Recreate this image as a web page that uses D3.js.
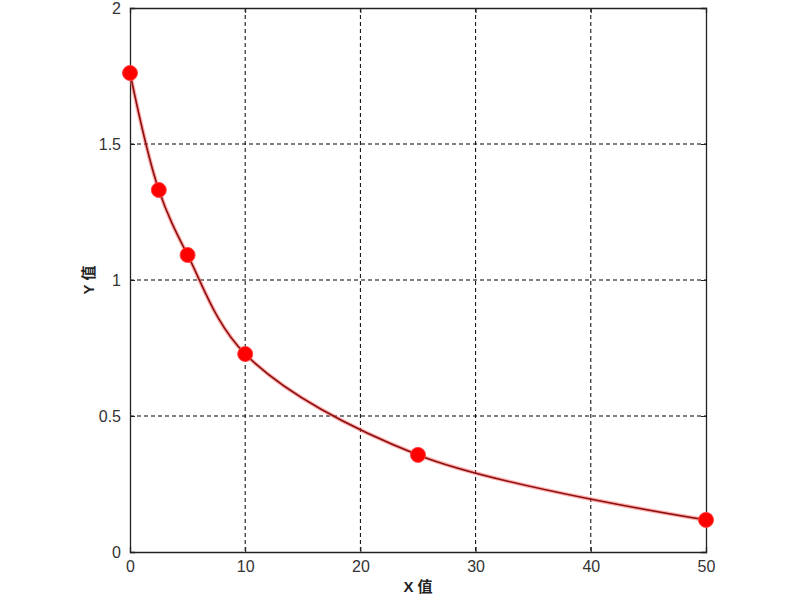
<!DOCTYPE html>
<html><head><meta charset="utf-8">
<script src="https://cdn.jsdelivr.net/npm/d3@7"></script>
<style>body{margin:0;background:#fff}</style>
</head><body>
<svg id="c" width="800" height="600"></svg>
<script>
const xValues = [0, 2.5, 5, 10, 25, 50];
const yValues = [1.761, 1.331, 1.092, 0.728, 0.357, 0.118];
const xTicks = [0, 10, 20, 30, 40, 50];
const yTicks = [0, 0.5, 1, 1.5, 2];
const xTitle = "X 值";
const yTitle = "Y 值";

const svg = d3.select("#c");
const L = 130, R = 706, T = 8, B = 552;
const x = d3.scaleLinear().domain([0, 50]).range([L, R]);
const y = d3.scaleLinear().domain([0, 2]).range([B, T]);

const g = svg.append("g");
// grid
g.selectAll(".gx").data(xTicks.slice(1, -1)).enter().append("line")
  .attr("x1", d => x(d)).attr("x2", d => x(d)).attr("y1", T).attr("y2", B)
  .attr("stroke", "#000").attr("stroke-width", 1).attr("stroke-dasharray", "4,3");
g.selectAll(".gy").data(yTicks.slice(1, -1)).enter().append("line")
  .attr("y1", d => y(d)).attr("y2", d => y(d)).attr("x1", L).attr("x2", R)
  .attr("stroke", "#000").attr("stroke-width", 1).attr("stroke-dasharray", "4,3");

// axes
const xAxis = d3.axisBottom(x).tickValues(xTicks).tickSize(-5).tickPadding(9).tickFormat(d3.format("d"));
const yAxis = d3.axisLeft(y).tickValues(yTicks).tickSize(-5).tickPadding(9).tickFormat(d => String(d));
const ga = svg.append("g").attr("transform", `translate(0,${B})`).call(xAxis);
const gb = svg.append("g").attr("transform", `translate(${L},0)`).call(yAxis);
const gc = svg.append("g").attr("transform", `translate(0,${T})`).call(d3.axisTop(x).tickValues(xTicks).tickSize(-5).tickFormat(""));
const gd = svg.append("g").attr("transform", `translate(${R},0)`).call(d3.axisRight(y).tickValues(yTicks).tickSize(-5).tickFormat(""));
[ga, gb, gc, gd].forEach(a => {
  a.select(".domain").attr("stroke", "#222").attr("stroke-width", 1.3);
  a.selectAll(".tick line").attr("stroke", "#222");
  a.selectAll("text").attr("font-family", "Liberation Sans, Arial, sans-serif").attr("font-size", 16).attr("fill", "#333");
});

// curve
const pts = xValues.map((v, i) => [x(v), y(yValues[i])]);
const line = d3.line().curve(d3.curveCatmullRom.alpha(0.5));
svg.append("path").attr("d", line(pts)).attr("fill", "none")
  .attr("stroke", "#ff6060").attr("stroke-width", 4).attr("opacity", 0.5);
svg.append("path").attr("d", line(pts)).attr("fill", "none")
  .attr("stroke", "#8b1010").attr("stroke-width", 1.6);

// markers
svg.selectAll(".pt").data(xValues).enter().append("circle")
  .attr("cx", d => x(d)).attr("cy", (d, i) => y(yValues[i])).attr("r", 7.5)
  .attr("fill", "#ff0000").attr("stroke", "#ff4040").attr("stroke-width", 1);

// titles
svg.append("text").attr("x", 418).attr("y", 592).attr("text-anchor", "middle")
  .attr("font-family", "Liberation Sans, Noto Sans CJK SC, sans-serif").attr("font-weight", "bold")
  .attr("font-size", 15).attr("fill", "#222").text(xTitle);
svg.append("text").attr("transform", "translate(94,280) rotate(-90)").attr("text-anchor", "middle")
  .attr("font-family", "Liberation Sans, Noto Sans CJK SC, sans-serif").attr("font-weight", "bold")
  .attr("font-size", 15).attr("fill", "#222").text(yTitle);
</script>
</body></html>
